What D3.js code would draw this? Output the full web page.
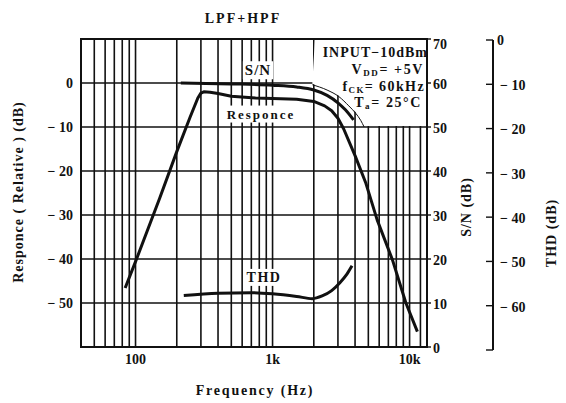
<!DOCTYPE html>
<html>
<head>
<meta charset="utf-8">
<script src="https://cdn.jsdelivr.net/npm/d3@7"></script>
<style>
  body { margin: 0; background: #fff; }
  svg { display: block; }
  text { font-family: "Liberation Serif", "DejaVu Serif", serif; font-weight: bold; fill: #111; }
</style>
</head>
<body>
<div id="chart"></div>
<script>
// grid / tick values
const freqGrid = [40, 50, 60, 70, 80, 90,
  100, 200, 300, 400, 500, 600, 700, 800, 900,
  1000, 2000, 3000, 4000, 5000, 6000, 7000, 8000, 9000, 10000, 12000];
const freqLabels = [[100, "100"], [1000, "1k"], [10000, "10k"]];
const respTicks = [0, -10, -20, -30, -40, -50];
const snTicks = [0, 10, 20, 30, 40, 50, 60, 70];
const thdTicks = [0, -10, -20, -30, -40, -50, -60];

// curves: [Hz, dB]
const response = [[84, -46.6], [100, -40.6], [150, -26.2], [200, -15.6], [250, -7.8],
  [285, -3.4], [300, -2.3], [315, -2.0], [350, -2.1], [400, -2.4], [500, -3.0], [750, -3.4],
  [1000, -3.5], [1500, -3.7], [2000, -4.2], [2400, -5.2], [2700, -6.3], [3000, -8.0], [3300, -10.4],
  [4000, -16.5], [4800, -22.8], [5800, -31.1], [7500, -40.2], [9400, -50], [11400, -56.5]];
const sn = [[214, 60], [500, 59.8], [1000, 59.5], [1500, 59.1], [2000, 58.4],
  [2500, 57.2], [3000, 55.5], [3400, 53.9], [3900, 51.6]];          // S/N scale
const thd = [[225, -57.7], [400, -57.2], [700, -57.05], [1000, -57.3], [1500, -57.9],
  [1950, -58.4], [2300, -57.8], [2700, -56.6], [3100, -54.8], [3500, -52.8], [3800, -51]]; // THD scale
const boxArc = [[1950, 59.6], [2500, 58.4], [3050, 56.9], [3600, 54.8], [4050, 53.1], [4400, 51.5], [4660, 50]]; // S/N scale

const conditions = [
  [["INPUT−10dBm", null]],
  [["V", null], ["DD", "sub"], ["= +5V", null]],
  [["f", null], ["CK", "sub"], ["= 60kHz", null]],
  [["T", null], ["a", "sub"], ["= 25°C", null]]
];

const W = 566, H = 403;
const pL = 81, pR = 427, pT = 39, pB = 347;

const x = d3.scaleLog().domain([40, 13400]).range([pL, pR]);
const ySN = d3.scaleLinear().domain([0, 70]).range([pB, pT]);
const yResp = d3.scaleLinear().domain([-60, 10]).range([pB, pT]);
const yTHD = d3.scaleLinear().domain([-70, 0]).range([350, 40]);

const svg = d3.select("#chart").append("svg")
    .attr("width", W).attr("height", H);

// grid
const grid = svg.append("g").attr("stroke", "#111").attr("stroke-width", 1.6);
grid.selectAll("line.v")
  .data(freqGrid)
  .join("line")
    .attr("x1", d => x(d)).attr("x2", d => x(d))
    .attr("y1", pT).attr("y2", pB);
grid.selectAll("line.h")
  .data(snTicks.slice(1, -1))
  .join("line")
    .attr("x1", pL).attr("x2", pR)
    .attr("y1", d => ySN(d)).attr("y2", d => ySN(d));

// blank area behind the conditions text
const arcLine = d3.line().x(d => x(d[0])).y(d => ySN(d[1])).curve(d3.curveMonotoneX);
const patch = [[x(2000) + 1, pT + 1], [pR - 1, pT + 1], [pR - 1, ySN(50) - 1]]
  .concat(boxArc.slice().reverse().map(d => [x(d[0]), ySN(d[1]) - 1]));
svg.append("path")
    .attr("d", d3.line()(patch) + "Z")
    .attr("fill", "#fff");
svg.append("path")
    .attr("d", arcLine(boxArc))
    .attr("fill", "none").attr("stroke", "#111").attr("stroke-width", 1);

// frame
svg.append("rect")
    .attr("x", pL).attr("y", pT)
    .attr("width", pR - pL).attr("height", pB - pT)
    .attr("fill", "none").attr("stroke", "#111").attr("stroke-width", 2);

// curve labels with white backing
function label(txt, cx, cy, size, spacing) {
  const g = svg.append("g");
  const t = g.append("text")
      .attr("x", cx).attr("y", cy)
      .attr("text-anchor", "middle").attr("dy", "0.35em")
      .style("font-size", size + "px").style("letter-spacing", spacing + "px")
      .text(txt);
  const b = t.node().getBBox();
  g.insert("rect", "text")
      .attr("x", b.x - 2).attr("y", b.y - 1)
      .attr("width", b.width + 4).attr("height", b.height + 2)
      .attr("fill", "#fff");
}
label("S/N", 258, 70, 15, 1);
label("Responce", 261, 114, 13, 2);
label("THD", 264, 277, 14, 1.5);

// curves
const lineResp = d3.line().x(d => x(d[0])).y(d => yResp(d[1]));
const lineSN = d3.line().x(d => x(d[0])).y(d => ySN(d[1])).curve(d3.curveMonotoneX);
const lineTHD = d3.line().x(d => x(d[0])).y(d => yTHD(d[1])).curve(d3.curveMonotoneX);
const curves = svg.append("g").attr("fill", "none").attr("stroke", "#111")
    .attr("stroke-width", 3).attr("stroke-linejoin", "round");
curves.append("path").attr("d", lineResp(response));
curves.append("path").attr("d", lineSN(sn));
curves.append("path").attr("d", lineTHD(thd));

// conditions text
const cond = svg.append("g").style("font-size", "14px");
const condY = [57, 74, 91, 107];
const condX = [428, 424, 425, 422];
const condSp = [1, 1.6, 1.4, 1.6];
conditions.forEach((row, i) => {
  const t = cond.append("text")
      .attr("x", condX[i]).attr("y", condY[i])
      .attr("text-anchor", "end").style("letter-spacing", condSp[i] + "px");
  row.forEach(([s, kind], j) => {
    const ts = t.append("tspan").text(s);
    if (kind === "sub") ts.style("font-size", "9px").attr("dy", 2);
    else if (j > 0) ts.attr("dy", -2);
  });
});

// left axis labels
svg.append("g").selectAll("text")
  .data(respTicks)
  .join("text")
    .attr("x", 73).attr("y", d => yResp(d)).attr("dy", "0.35em")
    .attr("text-anchor", "end").style("font-size", "14px")
    .text(d => d === 0 ? "0" : "− " + Math.abs(d));

// S/N axis
const snAx = svg.append("g");
snAx.selectAll("line")
  .data(snTicks)
  .join("line")
    .attr("x1", pR).attr("x2", pR + 4)
    .attr("y1", d => ySN(d)).attr("y2", d => ySN(d))
    .attr("stroke", "#111").attr("stroke-width", 1.4);
snAx.selectAll("text")
  .data(snTicks)
  .join("text")
    .attr("x", 433).attr("y", d => ySN(d) + (d === 70 ? 5 : 1)).attr("dy", "0.35em")
    .style("font-size", "14px")
    .text(d => d);

// THD axis
const thdX = 493;
const thdAx = svg.append("g").attr("stroke", "#111");
thdAx.append("line")
    .attr("x1", thdX).attr("x2", thdX)
    .attr("y1", yTHD(0)).attr("y2", yTHD(-70))
    .attr("stroke-width", 2);
thdAx.selectAll("line.t")
  .data(thdTicks.concat([-70]))
  .join("line")
    .attr("x1", thdX - 7).attr("x2", thdX)
    .attr("y1", d => yTHD(d)).attr("y2", d => yTHD(d))
    .attr("stroke-width", 1.4);
svg.append("g").selectAll("text")
  .data(thdTicks)
  .join("text")
    .attr("x", d => d === 0 ? 497 : 500).attr("y", d => yTHD(d) + (d === 0 ? 0 : 1)).attr("dy", "0.35em")
    .style("font-size", "14px")
    .text(d => d === 0 ? "0" : "− " + Math.abs(d));

// x labels
svg.append("g").selectAll("text")
  .data(freqLabels)
  .join("text")
    .attr("x", d => x(d[0])).attr("y", 359).attr("dy", "0.35em")
    .attr("text-anchor", "middle").style("font-size", "14px")
    .text(d => d[1]);

// titles
svg.append("text").attr("x", 243).attr("y", 18).attr("dy", "0.35em")
    .attr("text-anchor", "middle").style("font-size", "14px").style("letter-spacing", "2px")
    .text("LPF+HPF");
svg.append("text").attr("x", 255).attr("y", 390).attr("dy", "0.35em")
    .attr("text-anchor", "middle").style("font-size", "14px").style("letter-spacing", "1.8px")
    .text("Frequency  (Hz)");
svg.append("text")
    .attr("transform", "translate(18,192) rotate(-90)").attr("dy", "0.35em")
    .attr("text-anchor", "middle").style("font-size", "14px").style("letter-spacing", "1px")
    .text("Responce ( Relative )  (dB)");
svg.append("text")
    .attr("transform", "translate(466,207) rotate(-90)").attr("dy", "0.35em")
    .attr("text-anchor", "middle").style("font-size", "14px").style("letter-spacing", "1px")
    .text("S/N (dB)");
svg.append("text")
    .attr("transform", "translate(551,233) rotate(-90)").attr("dy", "0.35em")
    .attr("text-anchor", "middle").style("font-size", "14px").style("letter-spacing", "1px")
    .text("THD  (dB)");
</script>
</body>
</html>
